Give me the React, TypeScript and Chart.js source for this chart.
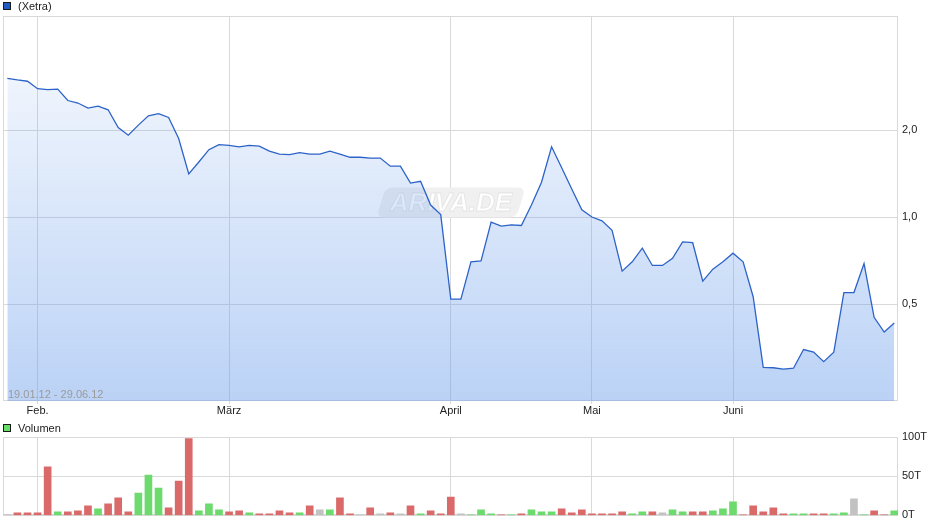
import React, { useEffect, useRef } from 'react';
import { Chart, registerables } from 'chart.js';

Chart.register(...registerables);

const FONT = '"Liberation Sans", Arial, Helvetica, sans-serif';

// Daily closing prices (Xetra), one entry per trading day with data
const prices = [
  3.02, 2.98, 2.95, 2.78, 2.76, 2.77, 2.53, 2.48, 2.38, 2.42,
  2.35, 2.04, 1.92, 2.08, 2.24, 2.28, 2.21, 1.87, 1.41, 1.55,
  1.71, 1.78, 1.77, 1.75, 1.77, 1.76, 1.69, 1.65, 1.645, 1.67,
  1.65, 1.65, 1.69, 1.65, 1.61, 1.61, 1.6, 1.6, 1.5, 1.5,
  1.31, 1.33, 1.1, 1.02, 0.52, 0.52, 0.7, 0.705, 0.96, 0.93,
  0.94, 0.935, 1.1, 1.32, 1.75, 1.48, 1.25, 1.06, 1.0, 0.97,
  0.9, 0.65, 0.7, 0.78, 0.68, 0.68, 0.72, 0.82, 0.815, 0.6,
  0.66, 0.7, 0.75, 0.7, 0.53, 0.302, 0.301, 0.298, 0.3, 0.348,
  0.341, 0.316, 0.341, 0.548, 0.548, 0.69, 0.45, 0.4, 0.43,
];

// Daily volume in thousands (T)
const volumes = [
  1, 3.4, 3.4, 3.4, 61.8, 4.6, 4.6, 5.9, 12.2, 8.4,
  14.7, 22.3, 4.6, 28.6, 51.3, 34.9, 9.7, 43.7, 97.9, 5.9,
  14.7, 7.1, 4.6, 5.9, 3.4, 2.1, 2.1, 5.9, 3.4, 3.4,
  12.2, 7.1, 7.1, 22.3, 2.1, 0.8, 9.7, 2.1, 3.4, 2.1,
  12.2, 2.1, 5.9, 2.1, 23.5, 2.1, 0.8, 7.1, 2.1, 0.8,
  0.8, 2.1, 7.1, 4.6, 4.6, 8.4, 3.4, 7.1, 2.1, 2.1,
  2.1, 4.6, 2.1, 4.6, 4.6, 3.4, 7.1, 4.6, 4.6, 4.6,
  5.9, 8.4, 17.2, 0.8, 12.2, 4.6, 9.7, 2.1, 2.1, 2.1,
  2.1, 2.1, 2.1, 3.4, 21, 0.8, 5.9, 0.8, 5.9,
];

const monthIdx = [3, 22, 44, 58, 72];
const monthLabels = ['Feb.', 'März', 'April', 'Mai', 'Juni'];
const priceTicks = [0.5, 1, 2];
const volumeTicks = [0, 50, 100];
const dateRange = '19.01.12 - 29.06.12';
const priceLegend = '(Xetra)';
const volumeLegend = 'Volumen';
const watermark = 'ARIVA.DE';

const X_MIN = -0.43;
const X_MAX = 88.37;
const GRID = '#d9d9d9';
const TEXT = '#222';

const volColors = volumes.map((_, i) => {
  if (i === 0) return '#c2c2c2';
  const d = prices[i] - prices[i - 1];
  if (d > 0) return '#6cda6c';
  if (d < 0) return '#da6a6a';
  return '#c2c2c2';
});

const framePlugin = {
  id: 'frame',
  beforeDatasetsDraw(chart: any) {
    const { ctx, chartArea: a } = chart;
    ctx.save();
    ctx.strokeStyle = GRID;
    ctx.lineWidth = 1;
    ctx.strokeRect(
      Math.round(a.left) + 0.5,
      Math.round(a.top) + 0.5,
      Math.round(a.right - a.left) - 1,
      Math.round(a.bottom - a.top) - 1
    );
    ctx.restore();
  },
};

const watermarkPlugin = {
  id: 'watermark',
  beforeDatasetsDraw(chart: any) {
    const { ctx, chartArea: a } = chart;
    const cx = (a.left + a.right) / 2 + 0.5;
    const cy = (a.top + a.bottom) / 2 - 6;
    ctx.save();
    ctx.translate(cx, cy);
    ctx.save();
    ctx.transform(1, 0, -0.3, 1, 0, 0);
    ctx.beginPath();
    (ctx as any).roundRect(-70, -15, 140, 30, 7);
    ctx.fillStyle = '#f0f0f0';
    ctx.fill();
    ctx.restore();
    ctx.font = `italic bold 26px ${FONT}`;
    ctx.textAlign = 'center';
    ctx.textBaseline = 'middle';
    ctx.fillStyle = '#ffffff';
    ctx.fillText(watermark, 0, 1);
    ctx.strokeStyle = 'rgba(215,215,215,0.6)';
    ctx.lineWidth = 0.8;
    ctx.strokeText(watermark, 0, 1);
    ctx.restore();
  },
};

export default function App() {
  const priceRef = useRef<HTMLCanvasElement>(null);
  const volRef = useRef<HTMLCanvasElement>(null);

  useEffect(() => {
    Chart.defaults.font.family = FONT;
    Chart.defaults.font.size = 11;
    Chart.defaults.color = TEXT;

    const xScaleBase = (showLabels: boolean, height: number) => ({
      type: 'linear' as const,
      min: X_MIN,
      max: X_MAX,
      offset: false,
      bounds: 'data' as const,
      afterBuildTicks: (s: any) => {
        s.ticks = monthIdx.map((v) => ({ value: v }));
      },
      afterFit: (s: any) => {
        s.height = height;
      },
      grid: { color: GRID, lineWidth: 1, drawTicks: showLabels, tickLength: 3, offset: false },
      border: { display: false },
      ticks: {
        display: showLabels,
        autoSkip: false,
        maxRotation: 0,
        padding: 0,
        color: TEXT,
        font: { size: 11, family: FONT },
        callback: (_v: any, i: number) => monthLabels[i] ?? '',
      },
    });

    const priceChart = new Chart(priceRef.current!, {
      type: 'line',
      data: {
        datasets: [
          {
            data: prices.map((p, i) => ({ x: i, y: p })),
            borderColor: '#2d63c8',
            borderWidth: 1.3,
            pointRadius: 0,
            tension: 0,
            fill: 'start',
            backgroundColor: (c: any) => {
              const chart = c.chart;
              const a = chart.chartArea;
              if (!a) return 'rgba(106,157,235,0.25)';
              const g = chart.ctx.createLinearGradient(0, a.top, 0, a.bottom);
              g.addColorStop(0, 'rgba(106,157,235,0.04)');
              g.addColorStop(1, 'rgba(106,157,235,0.46)');
              return g;
            },
          },
        ],
      },
      options: {
        animation: false,
        responsive: false,
        devicePixelRatio: 1,
        layout: { padding: { left: 3, top: 16, right: 0, bottom: 0 } },
        plugins: { legend: { display: false }, tooltip: { enabled: false } },
        scales: {
          x: xScaleBase(true, 17) as any,
          y: {
            type: 'logarithmic',
            position: 'right',
            min: 0.231,
            max: 4.96,
            bounds: 'data',
            afterBuildTicks: (s: any) => {
              s.ticks = priceTicks.map((v) => ({ value: v }));
            },
            afterFit: (s: any) => {
              s.width = 42;
            },
            grid: { color: GRID, lineWidth: 1, drawTicks: false },
            border: { display: false },
            ticks: {
              autoSkip: false,
              padding: 4,
              color: TEXT,
              font: { size: 11, family: FONT },
              callback: (v: any) => Number(v).toFixed(1).replace('.', ','),
            },
          } as any,
        },
      },
      plugins: [framePlugin, watermarkPlugin],
    });

    const volChart = new Chart(volRef.current!, {
      type: 'bar',
      data: {
        datasets: [
          {
            data: volumes.map((v, i) => ({ x: i, y: v })) as any,
            backgroundColor: volColors,
            borderWidth: 0,
            barThickness: 7,
          },
        ],
      },
      options: {
        animation: false,
        responsive: false,
        devicePixelRatio: 1,
        layout: { padding: { left: 3, top: 17, right: 0, bottom: 0 } },
        plugins: { legend: { display: false }, tooltip: { enabled: false } },
        scales: {
          x: xScaleBase(false, 10) as any,
          y: {
            type: 'linear',
            position: 'right',
            min: 0,
            max: 100,
            bounds: 'data',
            afterBuildTicks: (s: any) => {
              s.ticks = volumeTicks.map((v) => ({ value: v }));
            },
            afterFit: (s: any) => {
              s.width = 42;
            },
            grid: { color: GRID, lineWidth: 1, drawTicks: false },
            border: { display: false },
            ticks: {
              autoSkip: false,
              padding: 4,
              color: TEXT,
              font: { size: 11, family: FONT },
              callback: (v: any) => `${v}T`,
            },
          } as any,
        },
      },
      plugins: [framePlugin],
    });

    return () => {
      priceChart.destroy();
      volChart.destroy();
    };
  }, []);

  const textStyle: React.CSSProperties = {
    position: 'absolute',
    fontFamily: FONT,
    fontSize: 11,
    lineHeight: '13px',
    whiteSpace: 'nowrap',
  };
  const box = (bg: string, top: number): React.CSSProperties => ({
    position: 'absolute',
    left: 3,
    top,
    width: 8,
    height: 8,
    boxSizing: 'border-box',
    border: '1px solid #1a1a1a',
    background: bg,
  });

  return (
    <div style={{ position: 'absolute', left: 0, top: 0, width: 940, height: 526, background: '#fff', overflow: 'hidden' }}>
      <canvas ref={priceRef} width={940} height={418} style={{ position: 'absolute', left: 0, top: 0, width: 940, height: 418 }} />
      <canvas ref={volRef} width={940} height={106} style={{ position: 'absolute', left: 0, top: 420, width: 940, height: 106 }} />
      <div style={box('#1f5bc6', 2)} />
      <div style={{ ...textStyle, left: 18, top: 0, color: '#222' }}>{priceLegend}</div>
      <div style={box('#66dd66', 424)} />
      <div style={{ ...textStyle, left: 18, top: 422, color: '#222' }}>{volumeLegend}</div>
      <div style={{ ...textStyle, left: 8, top: 388, color: '#9a9a9a' }}>{dateRange}</div>
    </div>
  );
}
